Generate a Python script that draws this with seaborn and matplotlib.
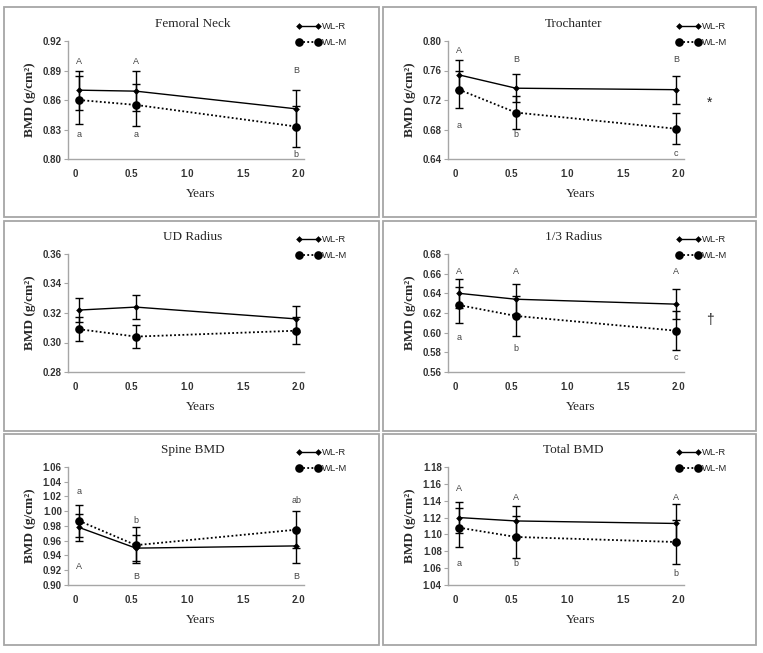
import numpy as np
import pandas as pd
import matplotlib
matplotlib.use("Agg")
import matplotlib.pyplot as plt
from matplotlib.patches import Rectangle
import seaborn as sns

# data
years = [0.03, 0.54, 1.98]
xticks = [0, 0.5, 1.0, 1.5, 2.0]
xtick_labels = ["0", "0.5", "1.0", "1.5", "2.0"]

fn_r = [0.870, 0.869, 0.851]
fn_r_sd = [0.020, 0.020, 0.019]
fn_m = [0.860, 0.855, 0.833]
fn_m_sd = [0.024, 0.021, 0.021]

tr_r = [0.754, 0.736, 0.734]
tr_r_sd = [0.020, 0.019, 0.019]
tr_m = [0.734, 0.703, 0.681]
tr_m_sd = [0.025, 0.022, 0.021]

ud_r = [0.322, 0.324, 0.316]
ud_r_sd = [0.008, 0.008, 0.009]
ud_m = [0.309, 0.304, 0.308]
ud_m_sd = [0.008, 0.008, 0.009]

rad_r = [0.640, 0.634, 0.629]
rad_r_sd = [0.015, 0.015, 0.015]
rad_m = [0.628, 0.617, 0.602]
rad_m_sd = [0.018, 0.020, 0.020]

sp_r = [0.978, 0.950, 0.953]
sp_r_sd = [0.018, 0.018, 0.023]
sp_m = [0.987, 0.954, 0.975]
sp_m_sd = [0.022, 0.024, 0.025]

tot_r = [1.120, 1.116, 1.113]
tot_r_sd = [0.018, 0.018, 0.023]
tot_m = [1.108, 1.097, 1.091]
tot_m_sd = [0.023, 0.025, 0.026]

# letters: WL-R group (upper case) and WL-M group (lower case) with their y spots
fn_letters = (["A", "A", "B"], [0.899, 0.899, 0.890], ["a", "a", "b"], [0.825, 0.825, 0.805])
tr_letters = (["A", "B", "B"], [0.787, 0.775, 0.775], ["a", "b", "c"], [0.686, 0.673, 0.647])
ud_letters = None
rad_letters = (["A", "A", "A"], [0.662, 0.662, 0.662], ["a", "b", "c"], [0.595, 0.584, 0.575])
sp_letters = (["A", "B", "B"], [0.925, 0.912, 0.912], ["a", "b", "ab"], [1.027, 0.988, 1.014])
tot_letters = (["A", "A", "A"], [1.155, 1.144, 1.144], ["a", "b", "b"], [1.065, 1.065, 1.054])

panels = [
    ("Femoral Neck", fn_r, fn_r_sd, fn_m, fn_m_sd, [0.80, 0.83, 0.86, 0.89, 0.92], fn_letters, None),
    ("Trochanter", tr_r, tr_r_sd, tr_m, tr_m_sd, [0.64, 0.68, 0.72, 0.76, 0.80], tr_letters, ("*", 0.716)),
    ("UD Radius", ud_r, ud_r_sd, ud_m, ud_m_sd, [0.28, 0.30, 0.32, 0.34, 0.36], ud_letters, None),
    ("1/3 Radius", rad_r, rad_r_sd, rad_m, rad_m_sd, [0.56, 0.58, 0.60, 0.62, 0.64, 0.66, 0.68], rad_letters, ("\u2020", 0.613)),
    ("Spine BMD", sp_r, sp_r_sd, sp_m, sp_m_sd, [0.90, 0.92, 0.94, 0.96, 0.98, 1.00, 1.02, 1.04, 1.06], sp_letters, None),
    ("Total BMD", tot_r, tot_r_sd, tot_m, tot_m_sd, [1.04, 1.06, 1.08, 1.10, 1.12, 1.14, 1.16, 1.18], tot_letters, None),
]

sns.set_style("white")
plt.rcParams["font.family"] = ["Liberation Sans", "DejaVu Sans"]

W, H = 763, 653
fig = plt.figure(figsize=(W / 100, H / 100), dpi=100)

serif = ["Liberation Serif", "DejaVu Serif"]
gray = "#a6a6a6"

# panel frames (pixel boxes)
box_x = [(4, 379), (383, 756)]
box_y = [(7, 217), (221, 431), (434, 645)]
for (y0, y1) in box_y:
    for (x0, x1) in box_x:
        fig.add_artist(Rectangle((x0 / W, 1 - y1 / H), (x1 - x0) / W, (y1 - y0) / H,
                                 transform=fig.transFigure, fill=False,
                                 edgecolor=gray, lw=1.3))

ax_left = [68, 448]
ax_top = [41, 254, 467]
ax_w, ax_h = 236, 118

for i, (title, r, rsd, m, msd, yt, letters, mark) in enumerate(panels):
    col, row = i % 2, i // 2
    ax = fig.add_axes([ax_left[col] / W, 1 - (ax_top[row] + ax_h) / H, ax_w / W, ax_h / H])

    df_r = pd.DataFrame({"Years": years, "BMD": r})
    df_m = pd.DataFrame({"Years": years, "BMD": m})

    ax.errorbar(years, r, yerr=rsd, fmt="none", ecolor="black", elinewidth=1.0,
                capsize=2.6, capthick=1.0, zorder=2)
    ax.errorbar(years, m, yerr=msd, fmt="none", ecolor="black", elinewidth=1.0,
                capsize=2.6, capthick=1.0, zorder=2)
    sns.lineplot(data=df_r, x="Years", y="BMD", ax=ax, color="black", lw=1.0,
                 marker="D", markersize=3.4, markeredgewidth=0, label="WL-R", zorder=3)
    sns.lineplot(data=df_m, x="Years", y="BMD", ax=ax, color="black", lw=1.3,
                 linestyle=(0, (1, 1.3)), marker="o", markersize=6.2, markeredgewidth=0,
                 label="WL-M", zorder=3)

    ax.set_xlim(-0.07, 2.05)
    ax.set_ylim(yt[0], yt[-1])
    ax.set_xticks(xticks)
    ax.set_xticklabels(xtick_labels)
    ax.set_yticks(yt)
    ax.set_yticklabels([f"{v:.2f}" for v in yt])
    for lab in ax.get_xticklabels() + ax.get_yticklabels():
        lab.set_fontweight("bold")
        lab.set_fontsize(7)
        lab.set_color("#333333")
    ax.tick_params(axis="y", length=3, width=0.8, color=gray, pad=1.5, left=True)
    ax.tick_params(axis="x", length=0, pad=7)

    sns.despine(ax=ax)
    for s in ["left", "bottom"]:
        ax.spines[s].set_color(gray)
        ax.spines[s].set_linewidth(1.0)

    ax.set_title(title, fontfamily=serif, fontsize=9.5, x=0.53, y=1.12, pad=0)
    ax.set_xlabel("Years", fontfamily=serif, fontsize=9.5)
    ax.xaxis.set_label_coords(0.56, -0.245)
    ax.set_ylabel("BMD (g/cm\u00b2)", fontfamily=serif, fontsize=9.5, fontweight="bold")
    ax.yaxis.set_label_coords(-0.135, 0.5)

    if letters is not None:
        up, up_y, lo, lo_y = letters
        for xv, t, yv in zip(years, up, up_y):
            ax.text(xv, yv, t, ha="center", va="center", fontsize=6.5, color="#444444")
        for xv, t, yv in zip(years, lo, lo_y):
            ax.text(xv, yv, t, ha="center", va="center", fontsize=6.5, color="#444444")
    if mark is not None:
        ax.text(2.28, mark[1], mark[0], ha="center", va="center", fontsize=10,
                color="#222222", clip_on=False)

    ax.legend(loc="upper left", bbox_to_anchor=(0.965, 1.16), frameon=False,
              borderpad=0, borderaxespad=0, handlelength=2.7, handletextpad=0.05,
              labelspacing=0.75, numpoints=2, fontsize=6.8)

fig.savefig("out.png", dpi=100)
